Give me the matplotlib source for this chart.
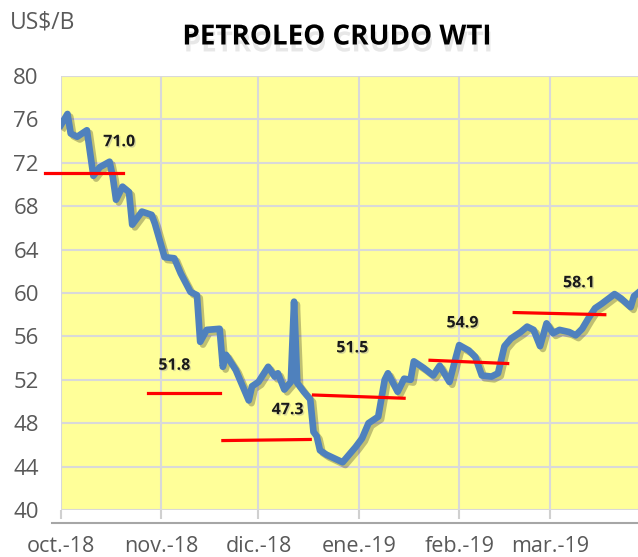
import matplotlib

matplotlib.use("Agg")
import matplotlib.patheffects as pe
import matplotlib.pyplot as plt
import pandas as pd
from matplotlib.lines import Line2D

# daily WTI price (US$/barrel)
price_dates = [
    "2018-10-01", "2018-10-03", "2018-10-04", "2018-10-06", "2018-10-09",
    "2018-10-11", "2018-10-13", "2018-10-16", "2018-10-17", "2018-10-18",
    "2018-10-20", "2018-10-22", "2018-10-23", "2018-10-26", "2018-10-29",
    "2018-10-30", "2018-11-02", "2018-11-05", "2018-11-07", "2018-11-10",
    "2018-11-12", "2018-11-13", "2018-11-15", "2018-11-19", "2018-11-20",
    "2018-11-21", "2018-11-24", "2018-11-28", "2018-11-29", "2018-12-01",
    "2018-12-04", "2018-12-06", "2018-12-07", "2018-12-09", "2018-12-11",
    "2018-12-12", "2018-12-13", "2018-12-15", "2018-12-17", "2018-12-18",
    "2018-12-19", "2018-12-20", "2018-12-22", "2018-12-27", "2018-12-31",
    "2019-01-02", "2019-01-04", "2019-01-07", "2019-01-09", "2019-01-10",
    "2019-01-13", "2019-01-15", "2019-01-17", "2019-01-18", "2019-01-21",
    "2019-01-24", "2019-01-26", "2019-01-29", "2019-01-31", "2019-02-01",
    "2019-02-04", "2019-02-06", "2019-02-08", "2019-02-11", "2019-02-13",
    "2019-02-15", "2019-02-17", "2019-02-20", "2019-02-22", "2019-02-24",
    "2019-02-26", "2019-02-28", "2019-03-02", "2019-03-04", "2019-03-07",
    "2019-03-09", "2019-03-11", "2019-03-13", "2019-03-15", "2019-03-17",
    "2019-03-21", "2019-03-23", "2019-03-26", "2019-03-27", "2019-03-29",
]
price_values = [
    75.5, 76.5, 74.7, 74.4, 75.0,
    70.8, 71.6, 72.1, 70.7, 68.6,
    69.8, 69.3, 66.3, 67.5, 67.2,
    66.4, 63.3, 63.2, 61.8, 60.1,
    59.8, 55.5, 56.6, 56.7, 53.2,
    54.3, 52.9, 50.1, 51.4, 51.8,
    53.2, 52.3, 52.6, 51.1, 51.8,
    59.2, 51.7, 50.9, 50.2, 47.2,
    46.8, 45.5, 45.1, 44.4, 45.8,
    46.6, 48.0, 48.6, 52.0, 52.6,
    50.9, 52.1, 52.0, 53.7, 53.1,
    52.4, 53.3, 51.8, 54.1, 55.2,
    54.7, 54.1, 52.4, 52.3, 52.6,
    55.1, 55.8, 56.4, 56.9, 56.6,
    55.1, 57.2, 56.3, 56.6, 56.4,
    56.1, 56.7, 57.7, 58.6, 59.0,
    59.9, 59.5, 58.7, 59.7, 60.2,
]

# monthly average segments (red)
avg_start = ["2018-09-26", "2018-10-28", "2018-11-20", "2018-12-18", "2019-01-23", "2019-02-18"]
avg_end = ["2018-10-20", "2018-11-19", "2018-12-17", "2019-01-15", "2019-02-16", "2019-03-18"]
avg_left = [71.1, 50.8, 46.4, 50.6, 53.8, 58.2]
avg_right = [71.1, 50.8, 46.5, 50.3, 53.5, 58.0]

# printed monthly averages and where they sit
avg_labels = ["71.0", "51.8", "47.3", "51.5", "54.9", "58.1"]
label_dates = ["2018-10-19", "2018-11-05", "2018-12-10", "2018-12-30", "2019-02-02", "2019-03-10"]
label_values = [73.9, 53.3, 49.2, 54.9, 57.2, 60.9]

month_ticks = ["2018-10-01", "2018-11-01", "2018-12-01", "2019-01-01", "2019-02-01", "2019-03-01"]
month_labels = ["oct.-18", "nov.-18", "dic.-18", "ene.-19", "feb.-19", "mar.-19"]
y_ticks = [40, 44, 48, 52, 56, 60, 64, 68, 72, 76, 80]

FONT = ["Open Sans", "DejaVu Sans"]
GREY = "#595959"

plt.rcParams["font.family"] = FONT

fig = plt.figure(figsize=(6.38, 5.57), dpi=100)
ax = fig.add_axes([61 / 638, 1 - 510 / 557, 1 - 61 / 638, (510 - 76) / 557])
ax.set_facecolor("#FFFF99")

x = pd.to_datetime(price_dates)
ax.plot(
    x, price_values, color="#4F81BD", linewidth=4.8, solid_joinstyle="round",
    path_effects=[pe.SimpleLineShadow(offset=(2, -2), shadow_color="k", alpha=0.25), pe.Normal()],
    zorder=3,
)

for s, e, l, r in zip(avg_start, avg_end, avg_left, avg_right):
    ax.plot(pd.to_datetime([s, e]), [l, r], color="#FF0000", linewidth=2.3, clip_on=False, zorder=4)

for txt, d, v in zip(avg_labels, pd.to_datetime(label_dates), label_values):
    ax.text(d, v, txt, ha="center", va="center", fontsize=11.5, fontweight="bold",
            color="#1a1a1a", zorder=5,
            path_effects=[pe.withSimplePatchShadow(offset=(1, -1), shadow_rgbFace="#999999", alpha=0.4)])

ax.set_ylim(40, 80)
ax.set_yticks(y_ticks)
ax.set_xlim(pd.Timestamp("2018-10-01"), pd.Timestamp("2019-03-28 06:00"))
ax.set_xticks(pd.to_datetime(month_ticks))
ax.set_xticklabels(month_labels)
ax.grid(True, color="#D9D9D9", linewidth=1.5)
ax.set_axisbelow(True)

for sp in ax.spines.values():
    sp.set_visible(False)

ax.tick_params(axis="y", length=0, pad=16, labelsize=16, labelcolor=GREY)
ax.tick_params(axis="x", length=6.5, width=1.5, color="#D0D0D0", direction="out",
               pad=12, labelsize=15.5, labelcolor=GREY)

# separate category axis line under the plot area
fig.add_artist(Line2D([52 / 638, 1], [1 - 523 / 557] * 2, color="#A6A6A6", linewidth=1.5))

fig.text(10 / 638, 1 - 23 / 557, "US$/B", ha="left", va="center", fontsize=16.5, color=GREY)
fig.text(337 / 638, 1 - 37 / 557, "PETROLEO CRUDO WTI", ha="center", va="center",
         fontsize=20, fontweight="bold", color="black",
         path_effects=[pe.withSimplePatchShadow(offset=(1, -5), shadow_rgbFace="#bbbbbb", alpha=0.35)])

fig.savefig("out.png", dpi=100)
plt.close(fig)
